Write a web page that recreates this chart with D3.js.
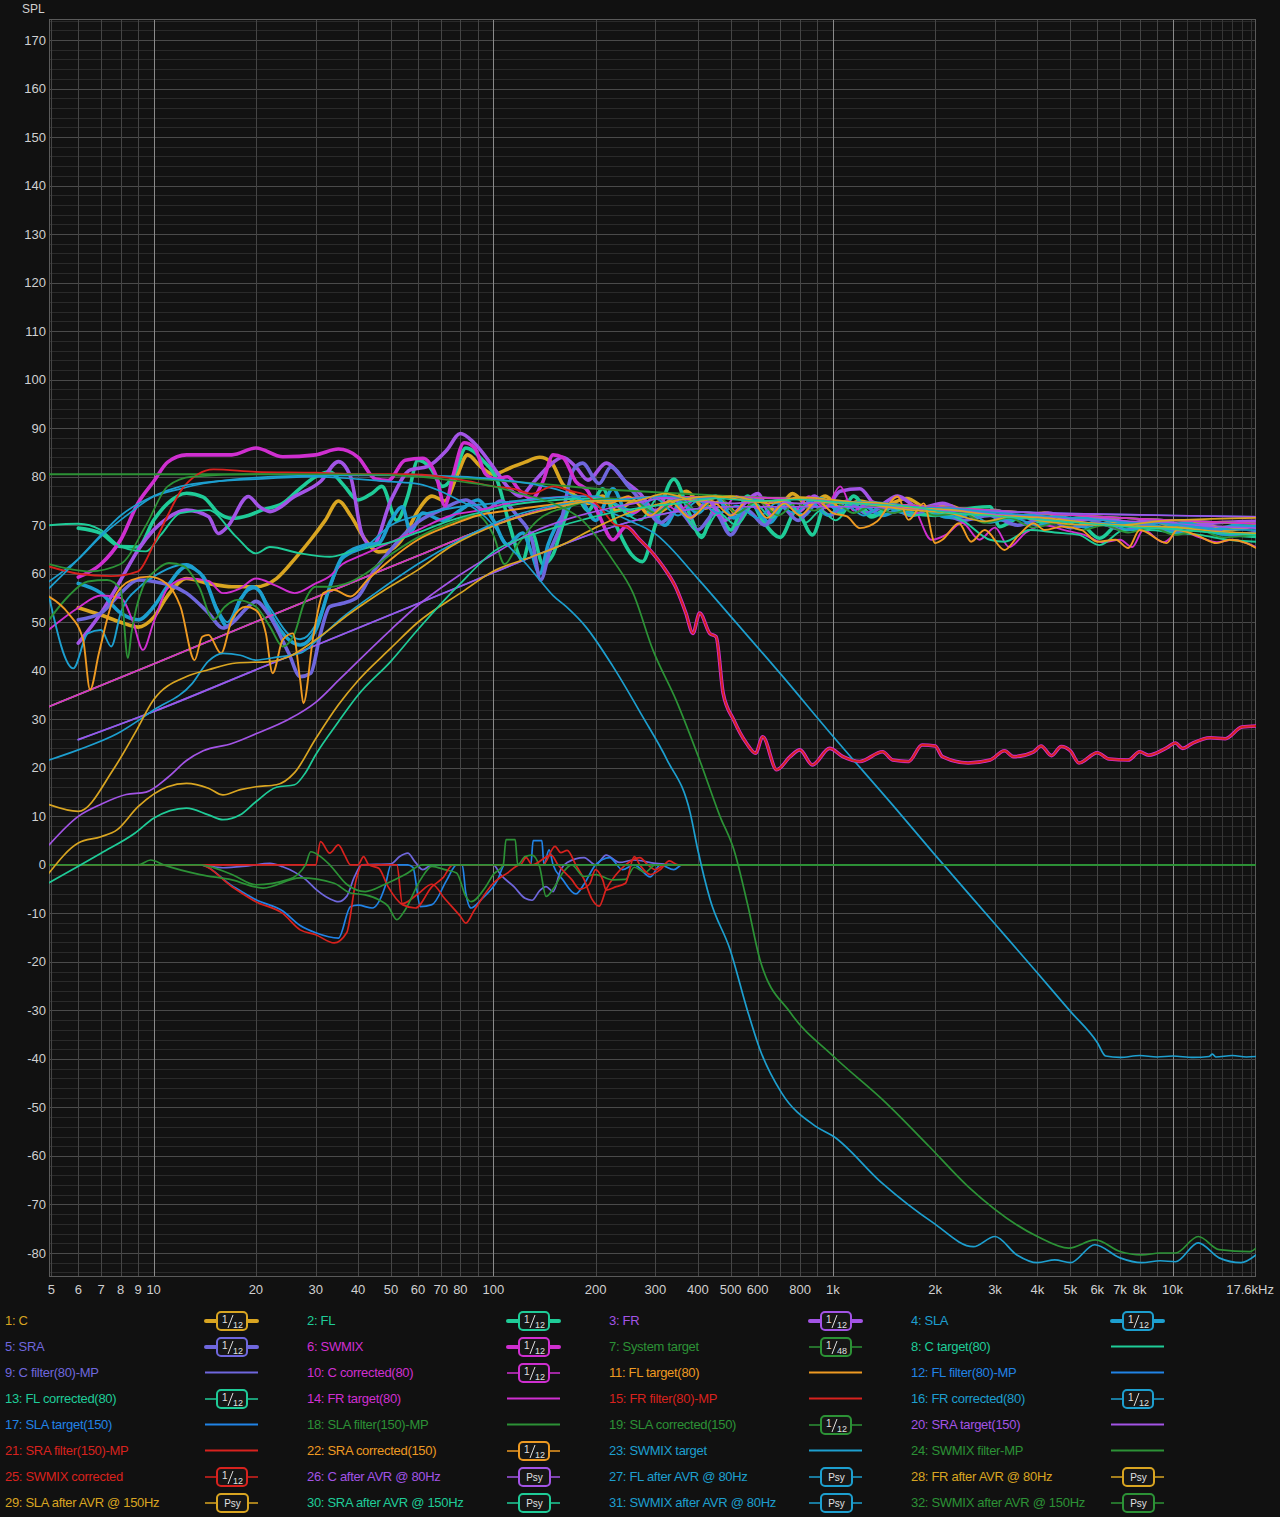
<!DOCTYPE html>
<html>
<head>
<meta charset="utf-8">
<script src="https://cdnjs.cloudflare.com/ajax/libs/d3/7.8.5/d3.min.js"></script>
<style>
html, body { margin: 0; padding: 0; background: #111; }
svg { display: block; font-family: "Liberation Sans", Arial, sans-serif; }
</style>
</head>
<body>
<div id="chart"></div>
<script>
// ---- values: [frequency Hz, SPL dB] ----
var cData = [[6,53],[7,51.5],[8,50],[9,49],[10,51],[11,55.5],[12.5,59],[14.5,58],[17,57.3],[20,57.3],[23,59],[26,63],[29,67],[32,71],[35,75],[38,72],[42,67],[46,64.5],[50,65],[55,68],[60,73],[66,76],[72,75],[78,80],[84,84.5],[92,82],[100,80.5],[112,81.8],[124,83],[137,84],[148,83],[160,78.5],[175,76],[190,74.5],[210,76],[230,73],[260,75],[290,72],[330,74],[370,77],[420,73.5],[470,75],[530,72],[600,75.5],[680,73],[760,76.5],[850,74],[950,76],[1050,73.5],[1200,75],[1400,74],[1650,75.5],[1900,73.5],[2200,74],[2600,72],[3000,73],[3500,71.5],[4200,72.5],[5000,71],[6000,71.5],[7200,70],[8500,71],[10000,70],[12000,70.5],[14500,69],[17600,70]];
var flData = [[6,69.4],[7,68.3],[8,65.6],[9,65.5],[10,71],[11,74.5],[12.5,76.6],[14,75.8],[15.5,72.5],[17,71.4],[19,72],[21,73.2],[24,74.5],[27,77.6],[30,80],[33,81],[36,78.5],[40,75.2],[44,76.6],[47,78],[52,71],[56,76],[60,83.4],[65,82],[71,78],[77,80.7],[83,85.9],[93,83.4],[103,79],[112,69.7],[122,62.8],[130,68.4],[140,62],[150,64],[160,70],[175,76],[190,73],[210,77.5],[230,70],[255,64],[275,62.5],[300,70],[340,79.5],[380,72],[410,67.5],[450,73.5],[500,69],[560,76],[620,71],[700,67.5],[780,73],[870,68],[960,75],[1050,72.5],[1150,76],[1300,72],[1500,74],[1700,72.5],[2000,72],[2300,73],[2900,73.8],[3100,69.7],[3600,71.8],[4200,70.5],[5200,71],[6100,67.3],[7000,70.4],[8800,69.7],[9800,69],[11000,69.7],[12200,69],[13900,68.3],[17600,67.7]];
var frData = [[6,45.7],[7,51.9],[8,58.7],[9,64.9],[10,69],[11,71.5],[12.5,73.1],[14.5,71.8],[15.5,68.3],[16.5,69.7],[19,75.9],[20.5,73.8],[22,72.8],[26,75.9],[31,79],[35,83.1],[38,80],[41,68.3],[44,65.6],[50,75.2],[57,81.4],[64,82.1],[73,85.5],[80,88.9],[88,86.9],[100,82],[110,78],[120,76],[132,79],[145,82],[160,84],[175,82],[190,79.3],[215,82.8],[245,79],[270,76.6],[300,73],[340,75.5],[380,71.5],[430,75],[480,71],[540,74],[600,76.5],[660,72],[720,74.5],[800,73],[880,76],[960,74],[1050,77],[1200,77.5],[1350,74],[1550,76],[1800,73.5],[2100,74.5],[2500,72.5],[3000,73],[3600,71.5],[4300,72.5],[5200,71],[6200,71.5],[7500,70.5],[9000,71],[11000,70],[13500,70.5],[17600,70.8]];
var slaData = [[6,58],[7,56],[8,51.9],[9,50.5],[10,53.2],[11,57.5],[12.5,61.5],[14,59.4],[15.5,51.9],[16.5,49.1],[18,54.6],[19.5,57.3],[20.5,56.4],[22,51.9],[25,46.4],[27,45.3],[30,48.4],[33,57.3],[36,63.5],[42,65.9],[46,66.3],[50,71],[54,73.8],[57,68.7],[62,72.5],[71,71],[80,73.1],[90,75.2],[100,71],[110,66],[122,68.4],[130,64],[137,60],[145,66],[160,72],[180,75],[200,71],[225,77.5],[250,72],[280,74],[320,70],[360,75],[400,72.5],[450,76],[510,71.5],[580,74],[650,70.5],[730,74.5],[820,72],[920,75.5],[1050,73],[1200,74.5],[1400,72],[1650,74],[1950,72.5],[2300,71.5],[2700,73],[3200,71],[3800,72],[4500,70.5],[5400,71.5],[6500,70],[7800,70.5],[9300,69.5],[11000,70.5],[13000,69],[15500,70],[17600,69.7]];
var sraData = [[6,50.5],[7,51.9],[8,56],[9,58.7],[10,58.4],[12.5,56],[14.5,51.9],[16,48.8],[17,49.8],[19,53.2],[20,54.3],[22,51.2],[25,43.6],[27,38.8],[29,39.5],[31,47.7],[33,53.2],[36,53.9],[40,55.3],[44,60.1],[48,63.5],[55,68.3],[61,71],[70,73.1],[83,75.2],[95,73],[105,75],[118,71.8],[130,67],[138,58.7],[146,64.2],[157,69.7],[172,81.4],[183,82.8],[205,78.6],[222,82],[250,78],[280,74],[310,70.5],[350,73],[400,69],[450,72.5],[500,68],[560,73],[630,70],[700,74],[790,71],[880,74],[980,72],[1100,75],[1250,72.5],[1450,74],[1700,72],[2000,73.5],[2400,71],[2900,72],[3500,70],[4200,71.5],[5000,69.5],[6000,70.5],[7200,69],[8600,70],[10300,68.5],[12500,69.5],[15000,68],[17600,68.5]];
var swmixLow = [[6,59.3],[7,62],[8,67],[9,74.6],[10,79],[11,83],[12.5,84.5],[15,84.5],[17,84.5],[20,85.9],[24,84.1],[30,84.5],[35,85.7],[40,84],[45,79.5],[49,79.2],[55,83.4],[62,83.8],[68,80],[72,74],[76,80],[82,87],[88,86],[95,80.5],[102,79.5],[110,80],[120,77],[130,75.5],[140,79],[150,84.5],[160,84],[175,79],[190,77],[205,72],[225,67],[246,69.7]];
var swmixCorrLow = [[4.92,61.5],[6,60],[7.5,59.5],[9,60.5],[10,66],[11,72],[12,77],[13.5,80.5],[15,81.5],[20,81],[30,80.8],[40,80.5],[55,80.5],[70,80],[85,79],[100,78],[115,77.5],[130,76.5],[150,78],[170,77],[190,76],[210,73],[230,70],[246,69.7]];
var swmixHigh = [[270,67],[295,64.2],[316,61.5],[344,57.3],[369,51.9],[387,47.7],[405,51.9],[434,47.7],[453,47],[475,35.4],[510,29.9],[556,25.1],[592,23],[621,26.4],[683,19.6],[748,22.3],[799,23.7],[870,20.6],[978,24],[1070,22.3],[1200,21.3],[1400,23.3],[1500,21.6],[1670,21.3],[1830,24.7],[2000,24.5],[2100,22.3],[2500,21],[2900,21.6],[3200,23.5],[3400,22.3],[3900,23.3],[4100,24.5],[4400,22.5],[4700,24.4],[5000,23.5],[5300,21],[6000,23.1],[6500,21.8],[7400,21.6],[8000,23.3],[8500,22.6],[9600,24.1],[10200,25.1],[10700,24],[11400,25],[12900,26.2],[14300,26],[16000,28.4],[17600,28.6]];
var systemTarget = [[4.92,80.5],[20,80.5],[40,80.4],[70,80],[100,79.3],[150,78.3],[200,77.5],[300,76.8],[500,76],[1000,75],[2000,73.8],[4000,72.5],[8000,71.3],[17600,70.3]];
var target80 = [[4.92,32.6],[10,41.4],[20,50.1],[40,58.7],[60,63.7],[80,67.3],[105,70.5],[130,72.6],[160,74],[200,75],[300,75.8],[500,75.8],[1000,75],[2000,73.8],[4000,72.5],[8000,71.3],[17600,70.3]];
var target150 = [[6,25.8],[10,31.6],[20,40.2],[40,48.8],[80,57.4],[150,65.2],[200,68.5],[300,72],[500,73.8],[1100,73.8],[2000,73.2],[5000,72.4],[10000,72],[17600,71.7]];
var swmixTarget = [[4.92,58.4],[6,63],[7,67.7],[8.5,72.5],[10,75.9],[12,77.5],[14,78.6],[17,79.4],[20,79.8],[30,80.2],[50,80.3],[80,80],[100,79.5],[130,78.5],[160,77],[200,74],[250,71],[300,68.2],[400,59],[500,51.2],[700,39.4],[1000,26.5],[1500,12.3],[2000,2],[3000,-12.2],[4000,-22.3],[5000,-30.2],[6000,-36.6],[6350,-39.4],[7000,-39.7],[8000,-39.3],[9000,-39.6],[10000,-39.4],[11500,-39.7],[12800,-39.5],[13100,-39.0],[13400,-39.6],[15000,-39.3],[16500,-39.6],[17600,-39.5]];
var cFilter = [[4.92,0],[13.7,0],[16,-0.6],[19,-0.2],[22,0.3],[24,-0.4],[26,-1.5],[28,-3],[30,-5],[33,-7],[35,-7.6],[37,-6.5],[39,-2.5],[41,0],[50,0.2],[53,1.7],[56,2.4],[59,0.5],[62,-1],[66,0],[100,0],[105,-2],[115,-4.5],[124,-6.9],[130,-7.3],[137,-5.3],[143,-4.5],[150,-5.5],[158,-1],[165,0.5],[185,1.5],[200,0],[215,2],[235,0.5],[260,1],[300,0.3],[350,0],[400,0]];
var flFilter = [[4.92,0],[13.7,0],[17,-4.3],[20,-7.2],[24,-9.5],[27,-12.5],[30,-14],[35,-15.1],[38,-8.6],[40,-8.3],[44,-8.9],[48,-4.5],[50,0],[56,0],[58,-0.5],[61,-8.6],[66,-8.2],[73,-3.1],[78,0],[81,0],[83,-5.8],[86,-8.9],[92,-7.2],[103,-3.1],[108,0],[129,0],[131,5],[139,5],[141,0],[146,3.1],[150,0],[160,-3],[175,-6],[185,-4],[200,0],[220,1.5],[240,-1],[260,0],[290,-2.5],[310,0],[340,-1],[360,0],[400,0]];
var frFilter = [[4.92,0],[13.7,0],[17,-4.5],[20,-7.6],[24,-10],[27,-13.4],[30,-14.4],[34,-16.1],[37,-14],[39.5,-3],[41,0],[52,0],[54,-8],[60,-6],[66,-4],[72,-7],[80,-10.6],[83,-12],[88,-9.3],[100,-3.8],[110,-1.7],[120,0],[140,0],[152,3.8],[158,2.5],[165,3],[175,0],[185,-3],[195,-7],[205,-8.5],[215,-5],[230,-2],[245,0],[270,1.5],[285,0],[300,-1],[320,0],[400,0]];
var slaFilter = [[4.92,0],[9,0],[9.8,1],[10.7,0],[13.7,-2],[17,-3.1],[21,-4.8],[27,-2.7],[34,-3.8],[38,-5.8],[42,-6.2],[46,-7.2],[49,-8.5],[52,-11.3],[55,-9.3],[61,-3.1],[66,-0.3],[72,-1],[78,-1.7],[83,-6.5],[86,-7.6],[95,-4.5],[100,-2],[107,0],[109,5.2],[116,5.2],[118,0],[124,1.7],[130,2],[137,-0.5],[143,-6.5],[150,-5],[160,-1.7],[170,0],[185,-2.4],[200,-2],[225,-3.1],[245,-3],[260,-0.5],[280,-1.5],[300,0],[17600,0]];
var sraFilter = [[4.92,0],[30,0],[31,4.8],[33,2.4],[35,4.1],[36.5,2],[38,0],[40,0],[41.5,1.7],[43,0],[46,-0.7],[49,-4.5],[54,-8.2],[59,-8.9],[66,-4.5],[71,-2.7],[76,0],[120,0],[125,1.5],[130,0],[148,2],[155,0],[170,-3],[180,-5],[192,-4],[200,-1],[210,-3.1],[215,-5.2],[230,-4.5],[245,-3.8],[260,1.7],[270,0],[290,-2],[310,-1],[330,0.8],[350,0],[400,0]];
var swmixFilter = [[4.92,0],[13.7,0],[17,-2],[20,-4.1],[25,-3],[28,0],[29,2.7],[31,1.7],[33,0],[37,-4],[42,-5.5],[48,-4],[55,-2],[62,0],[17600,0]];
var cCorr = [[4.92,48.5],[6,53],[7,55.5],[8,55],[8.7,50],[9.3,44.3],[10,50],[11,57],[12.5,59],[14.5,58.5],[16,56],[18,57],[20,59],[23,57.5],[26,56],[30,58],[33,59.5],[36,62],[40,63.5],[50,66.5],[60,69],[75,72],[90,73],[110,74.5],[140,75.5],[180,76],[220,75],[260,72.5],[300,76],[350,73],[400,75.5],[460,72],[520,76],[600,73.5],[680,75],[760,72.5],[850,76],[950,73.5],[1050,78],[1150,73],[1300,75],[1500,72.5],[1700,74],[1950,67],[2150,68],[2400,70.5],[2700,67],[3000,69.5],[3300,65.5],[3700,68.5],[4200,70],[4800,69],[5500,68],[6200,66.5],[7000,67],[7600,65.5],[8200,69],[9400,66.5],[10500,68.8],[12000,67.5],[13500,66.5],[15000,67],[17600,65.5]];
var flCorr = [[4.92,70],[6,70.3],[7,69],[8,65.6],[9.5,64.6],[10.5,68],[12,72.5],[14.5,73.1],[17.5,67.6],[20,64.2],[22,65.5],[27,64.2],[33,63.5],[38,64.5],[44,65.6],[50,66.5],[60,68.5],[75,71],[90,72.5],[110,74],[140,75],[200,75.5],[230,74],[270,71],[310,76],[360,73],[410,68],[460,72.5],[520,70],[590,74.5],[660,71.5],[740,75],[830,70.5],[920,73],[1020,71],[1150,74.5],[1300,71.5],[1500,73.5],[1700,72],[2000,72.5],[2400,71],[2900,67],[3200,66.6],[3800,69],[4500,68.5],[5300,68],[6100,65.9],[7200,69],[8500,69],[10000,68.5],[12000,68],[14500,67],[17600,66.6]];
var frCorr = [[4.92,55.3],[5.8,40.5],[6.4,47.7],[7,48.4],[7.5,45],[8,51.9],[9.1,57.3],[10,59.4],[11,61],[12.5,62],[14,59],[15.5,52.5],[16.5,50],[18,55],[20,57],[22,53],[25,47.5],[27,46.5],[30,49.5],[33,57],[36,63],[42,65.5],[50,70],[60,72],[75,73.5],[100,74.5],[140,75.5],[200,76],[220,75],[260,73],[300,75.5],[350,72],[400,75],[460,72.5],[520,74],[600,71.5],[680,74.5],[770,72.5],[860,75],[960,72],[1080,74.5],[1230,72],[1400,74],[1600,72.5],[1850,73.5],[2150,71.5],[2500,72.5],[2900,70.5],[3400,71.5],[4000,70],[4700,71],[5500,69.5],[6400,70.5],[7500,69],[8800,70],[10300,68.5],[12000,69.5],[14000,68],[17600,68.5]];
var slaCorr = [[4.92,50.5],[5.6,55.3],[6.4,58.4],[7.3,58.7],[8,56.7],[8.4,42.6],[8.6,47.7],[9.3,57.3],[10.2,60.8],[11.1,62.2],[12.3,61.5],[13.6,57.3],[15,50.5],[16.2,53.2],[17.6,54.6],[20,53.2],[22,49.1],[24,45],[26,47.7],[27.7,53.9],[30,57.3],[33,57.3],[37,58],[42,60],[50,64],[60,67.5],[75,70.5],[90,72],[100,68],[108,62],[118,66],[135,71],[170,74],[220,75.5],[260,75],[300,72.5],[350,75.5],[400,73],[460,76],[520,72.5],[600,75],[690,72],[780,74.5],[880,73],[1000,75],[1150,72.5],[1300,74],[1500,72.5],[1750,73.5],[2000,72],[2400,72.5],[2800,70.5],[3300,71.5],[3900,69.5],[4600,70.5],[5400,69],[6300,70],[7400,68.5],[8700,69.5],[10200,68],[12000,69],[14000,67.5],[17600,68]];
var sraCorr = [[4.92,55.3],[5.6,51.9],[6.2,46.4],[6.5,36.1],[6.9,43.6],[7.6,54.6],[8.6,58.7],[9.7,59.4],[10.9,58],[12,53.2],[13.2,42.2],[13.9,47],[14.5,47.4],[15.8,43.6],[17,50.5],[18.7,53.2],[20,52.5],[21.4,47.7],[22.4,39.5],[24,46.4],[25.7,47.7],[27,38.1],[27.6,33.3],[29.5,47],[31.6,56],[33.8,56.7],[38,55.3],[42.6,58.7],[50,63],[60,67],[75,70],[90,72],[110,73],[140,74],[180,75],[220,74.5],[250,76],[290,72],[330,75],[380,71.5],[440,75],[500,72],[570,75.5],[640,71.5],[720,74.5],[800,72],[900,75],[1000,72.5],[1100,71.8],[1200,69.4],[1350,70.8],[1550,75.9],[1670,71.1],[1850,74.5],[2000,66.3],[2100,67],[2350,70.4],[2550,66.6],[2800,69],[3200,64.9],[3500,67.7],[3900,70.4],[4200,69],[4700,69.7],[5400,69],[6000,66.6],[6800,67],[7400,65.3],[8000,69],[9600,66.3],[10300,69],[11800,67.9],[13500,66.3],[14700,67],[16500,66.3],[17600,65.3]];
var cAvr = [[4.92,4.1],[6,10],[7,12.5],[8.3,14.5],[9.5,15],[11,18],[12.5,21.5],[14,23.5],[17,25],[20,27],[25,30],[30,33.5],[35,38],[40,42],[50,48.5],[60,53.5],[75,58.5],[100,64],[130,68.5],[170,71.5],[220,73.5],[260,74.5],[320,75.5],[400,75],[500,74.5],[650,75],[800,74.5],[1000,74.8],[1300,74.2],[1700,73.5],[2200,73],[3000,72.3],[4000,71.8],[5500,71.2],[7500,70.8],[10000,70.3],[13000,69.8],[17600,69.4]];
var flAvr = [[4.92,21.6],[6,23.7],[7.8,27],[10,31.9],[13,37.4],[14.5,42],[16,43.6],[18,43.2],[20,42.2],[23,42.8],[27,43.6],[31,47],[36,51],[45,56],[60,62],[80,67],[110,71.5],[150,74],[200,75],[260,75.5],[320,76],[400,75.5],[500,75.8],[650,75],[800,75.4],[1000,74.6],[1300,74.8],[1700,73.8],[2200,73.5],[3000,72.6],[4000,72],[5500,71.4],[7500,70.5],[10000,70.2],[13000,69.3],[17600,69]];
var frAvr = [[4.92,12.4],[6,11],[7.6,19.6],[8.8,27.1],[10,34],[12.5,38.8],[14.5,40.2],[17.5,41.6],[22,41.9],[25,42.9],[30,46.4],[38,51.9],[48,56.7],[60,60.8],[75,65.6],[105,70.4],[150,73.5],[200,75],[260,75],[320,76.5],[400,75],[500,76],[650,74.5],[800,75.8],[1000,75.2],[1300,74.2],[1700,73.1],[2200,72.5],[2800,70.8],[3400,71.8],[4200,70.8],[5400,70.1],[7000,70],[9000,70.8],[10800,71.1],[13000,71.3],[17600,71.5]];
var slaAvr = [[4.92,-1.7],[6,4.5],[7,5.8],[7.8,7.2],[9,12],[11,16.1],[12.5,16.8],[14.5,15.8],[16,14.4],[18,15.5],[20,16.1],[23,16.5],[26,19],[30,26],[35,33],[40,38],[50,44.7],[60,50],[80,56],[100,60.5],[130,63.5],[160,66],[200,69.5],[250,72.5],[350,75.2],[450,76],[600,74.8],[800,75.5],[1000,74.6],[1300,74.7],[1700,73.6],[2200,73.2],[3000,72],[4000,71.6],[5500,70.6],[7500,69.8],[10000,69.6],[13000,68.8],[17600,68.3]];
var sraAvr = [[4.92,-3.7],[6,-0.3],[7,2.4],[8.8,6.5],[10,9.6],[12.5,11.7],[14.5,10.3],[16,9.3],[18,10.3],[20,13],[23,16],[26,16.5],[28,19],[30,22.7],[35,29.5],[40,35],[50,42],[60,48.5],[80,58],[100,64.5],[130,68],[170,70.5],[220,72.5],[300,74],[350,74.5],[450,75.5],[600,75],[800,75.3],[1000,74.8],[1300,74.3],[1700,73.8],[2200,72.6],[3000,71.9],[4000,71.2],[5500,70.4],[7500,69.6],[10000,69.2],[13000,68.5],[17600,68]];
var swmixAvr80 = [[4.92,57],[6,63],[7,68],[8,72],[10,76],[12,78],[15,79],[20,79.5],[30,80],[40,79.5],[50,79],[60,78.5],[70,77],[80,75],[90,73],[100,70],[110,66],[125,62],[137,58.7],[150,55.5],[164,53.2],[187,49.1],[225,40.9],[275,30.6],[325,21.6],[380,10.7],[400,3.1],[435,-7.2],[498,-17.5],[560,-30],[610,-38.1],[706,-47],[890,-53.9],[1005,-56],[1390,-65.5],[1975,-73.8],[2590,-78.7],[3000,-76.6],[3480,-80.4],[4000,-82],[4500,-81.4],[5000,-82],[5900,-78.3],[7000,-81],[8100,-82],[9200,-81.6],[10200,-81.8],[11900,-77.9],[13700,-81],[15900,-82],[17600,-80.4]];
var swmixAvr150 = [[4.92,62],[6.5,60.5],[8,62],[9.5,70],[11,78],[13,80],[20,80.5],[40,80.5],[60,80],[80,79],[100,78],[120,76.5],[150,74.5],[183,71],[225,62.8],[258,56],[295,44.3],[345,34],[405,21.6],[465,10],[511,3.1],[560,-8],[610,-19.6],[750,-30.5],[1005,-39.5],[1430,-49],[1918,-58],[2500,-66.3],[4000,-76.6],[4950,-79],[5920,-77.3],[7000,-79.7],[8100,-80.4],[9200,-80],[10200,-80],[11900,-76.6],[13700,-79.3],[16900,-79.7],[17600,-79]];

// legend
var legendNames = ['1: C','2: FL','3: FR','4: SLA','5: SRA','6: SWMIX','7: System target','8: C target(80)',
  '9: C filter(80)-MP','10: C corrected(80)','11: FL target(80)','12: FL filter(80)-MP','13: FL corrected(80)','14: FR target(80)','15: FR filter(80)-MP','16: FR corrected(80)',
  '17: SLA target(150)','18: SLA filter(150)-MP','19: SLA corrected(150)','20: SRA target(150)','21: SRA filter(150)-MP','22: SRA corrected(150)','23: SWMIX target','24: SWMIX filter-MP',
  '25: SWMIX corrected','26: C after AVR @ 80Hz','27: FL after AVR @ 80Hz','28: FR after AVR @ 80Hz','29: SLA after AVR @ 150Hz','30: SRA after AVR @ 150Hz','31: SWMIX after AVR @ 80Hz','32: SWMIX after AVR @ 150Hz'];
var legendColors = ['#d9a521','#1fcc98','#a354e6','#1d9fcf','#6f67dd','#cf2fd0','#2c9236','#1fcc98',
  '#6f67dd','#cf2fd0','#ee9a22','#2183e6','#1fcc98','#cf2fd0','#d8221e','#1d9fcf',
  '#2183e6','#2c9236','#2c9236','#a354e6','#d8221e','#ee9a22','#1d9fcf','#2c9236',
  '#d8221e','#a354e6','#1d9fcf','#d9a521','#d9a521','#1fcc98','#1d9fcf','#2c9236'];
var legendBadges = ['1/12','1/12','1/12','1/12','1/12','1/12','1/48','',
  '','1/12','','','1/12','','','1/12',
  '','','1/12','','','1/12','','',
  '1/12','Psy','Psy','Psy','Psy','Psy','Psy','Psy'];

var seriesData = [cData, flData, frData, slaData, sraData, swmixLow.concat(swmixHigh), systemTarget, target80,
  cFilter, cCorr, target80, flFilter, flCorr, target80, frFilter, frCorr,
  target150, slaFilter, slaCorr, target150, sraFilter, sraCorr, swmixTarget, swmixFilter,
  swmixCorrLow.concat(swmixHigh), cAvr, flAvr, frAvr, slaAvr, sraAvr, swmixAvr80, swmixAvr150];

var xTickFreqs = [5,6,7,8,9,10,20,30,40,50,60,70,80,100,200,300,400,500,600,800,1000,2000,3000,4000,5000,6000,7000,8000,10000];
var xTickLabels = ['5','6','7','8','9','10','20','30','40','50','60','70','80','100','200','300','400','500','600','800','1k','2k','3k','4k','5k','6k','7k','8k','10k'];

// ---- canvas ----
var width = 1280, height = 1517;
var plotLeft = 49, plotRight = 1256, plotTop = 19, plotBottom = 1277;

var svg = d3.select('#chart').append('svg')
  .attr('width', width).attr('height', height);
svg.append('rect').attr('width', width).attr('height', height).attr('fill', '#111111');

var x = d3.scaleLog().domain([4.92, 17600]).range([plotLeft, plotRight]);
var y = d3.scaleLinear().domain([-80, 170]).range([1253, 40]);

svg.append('rect')
  .attr('x', plotLeft).attr('y', plotTop)
  .attr('width', plotRight - plotLeft).attr('height', plotBottom - plotTop)
  .attr('fill', '#121212');

// grid: horizontal every 2 dB
var grid = svg.append('g');
for (var v = -84; v <= 174; v += 2) {
  var major = (v % 10 === 0);
  grid.append('line')
    .attr('x1', plotLeft).attr('x2', plotRight)
    .attr('y1', Math.round(y(v)) + 0.5).attr('y2', Math.round(y(v)) + 0.5)
    .attr('stroke', major ? '#4a4a4a' : '#2a2a2a').attr('stroke-width', 1);
}
// vertical
var vFreqs = [];
[1, 10, 100, 1000].forEach(function(d) {
  for (var m = 1; m <= 9; m++) { if (m * d >= 5) vFreqs.push(m * d); }
});
for (var k = 10000; k <= 17000; k += 1000) vFreqs.push(k);
vFreqs.forEach(function(f) {
  var dec = (f === 10 || f === 100 || f === 1000 || f === 10000);
  var px = Math.round(x(f)) + 0.5;
  grid.append('line')
    .attr('x1', px).attr('x2', px)
    .attr('y1', plotTop).attr('y2', plotBottom)
    .attr('stroke', dec ? '#8a8a8a' : (f > 10000 ? '#363636' : '#454545'))
    .attr('stroke-width', 1);
});
svg.append('rect')
  .attr('x', plotLeft + 0.5).attr('y', plotTop + 0.5)
  .attr('width', plotRight - plotLeft - 1).attr('height', plotBottom - plotTop - 1)
  .attr('fill', 'none').attr('stroke', '#5a5a5a');

// axis labels
var yTicks = d3.range(-80, 171, 10);
svg.append('g').selectAll('text').data(yTicks).enter().append('text')
  .attr('x', 46).attr('y', function(d) { return y(d) + 4.5; })
  .attr('text-anchor', 'end').attr('fill', '#d0d0d0').attr('font-size', 13)
  .text(function(d) { return d; });
svg.append('text').attr('x', 22).attr('y', 13).attr('fill', '#d0d0d0').attr('font-size', 12).text('SPL');

svg.append('g').selectAll('text').data(xTickFreqs).enter().append('text')
  .attr('x', function(d) { return x(d); }).attr('y', 1294)
  .attr('text-anchor', 'middle').attr('fill', '#d0d0d0').attr('font-size', 13)
  .text(function(d, i) { return xTickLabels[i]; });
svg.append('text').attr('x', 1274).attr('y', 1294).attr('text-anchor', 'end')
  .attr('fill', '#d0d0d0').attr('font-size', 13).text('17.6kHz');

// curves
svg.append('clipPath').attr('id', 'plotclip').append('rect')
  .attr('x', plotLeft).attr('y', plotTop)
  .attr('width', plotRight - plotLeft).attr('height', plotBottom - plotTop);

var lineGen = d3.line()
  .x(function(d) { return x(d[0]); })
  .y(function(d) { return y(d[1]); })
  .curve(d3.curveMonotoneX);

var curves = svg.append('g').attr('clip-path', 'url(#plotclip)');
seriesData.forEach(function(data, i) {
  var thick = i < 6;
  curves.append('path')
    .attr('d', lineGen(data))
    .attr('fill', 'none')
    .attr('stroke', legendColors[i])
    .attr('stroke-width', thick ? 3.6 : (legendBadges[i] === '1/12' || legendBadges[i] === '1/48' ? 1.9 : 1.7))
    .attr('stroke-linejoin', 'round')
    .attr('stroke-linecap', 'round');
});

// legend
var legend = svg.append('g');
legendNames.forEach(function(name, i) {
  var col = i % 4, row = Math.floor(i / 4);
  var lx = 5 + col * 302, ly = 1320 + row * 26;
  var color = legendColors[i];
  var g = legend.append('g');
  g.append('text').attr('x', lx).attr('y', ly + 4.5)
    .attr('fill', color).attr('font-size', 13).attr('letter-spacing', -0.3).text(name);
  var sx = lx + 200;
  var badge = legendBadges[i];
  if (!badge) {
    g.append('line').attr('x1', sx).attr('x2', sx + 53).attr('y1', ly + 0.5).attr('y2', ly + 0.5)
      .attr('stroke', color).attr('stroke-width', 2);
    return;
  }
  var thick = i < 6;
  var bw = badge === 'Psy' ? 31 : 30;
  var bx = sx + 12;
  g.append('line').attr('x1', sx + (thick ? 1 : 0)).attr('x2', bx).attr('y1', ly + 1).attr('y2', ly + 1)
    .attr('stroke', color).attr('stroke-width', thick ? 4 : 1.5).attr('stroke-linecap', thick ? 'round' : 'butt');
  g.append('line').attr('x1', bx + bw).attr('x2', sx + 53 - (thick ? 1 : 0)).attr('y1', ly + 1).attr('y2', ly + 1)
    .attr('stroke', color).attr('stroke-width', thick ? 4 : 1.5).attr('stroke-linecap', thick ? 'round' : 'butt');
  g.append('rect').attr('x', bx).attr('y', ly - 8).attr('width', bw).attr('height', 18).attr('rx', 4)
    .attr('fill', '#161616').attr('stroke', color).attr('stroke-width', 2);
  if (badge === 'Psy') {
    g.append('text').attr('x', bx + bw / 2).attr('y', ly + 5).attr('text-anchor', 'middle')
      .attr('fill', '#e0e0e0').attr('font-size', 10).text('Psy');
  } else {
    var parts = badge.split('/');
    g.append('text').attr('x', bx + 5).attr('y', ly + 3).attr('fill', '#e0e0e0').attr('font-size', 10).text(parts[0]);
    g.append('line').attr('x1', bx + 11).attr('y1', ly + 8).attr('x2', bx + 16).attr('y2', ly - 5)
      .attr('stroke', '#e0e0e0').attr('stroke-width', 1);
    g.append('text').attr('x', bx + 16).attr('y', ly + 8).attr('fill', '#e0e0e0').attr('font-size', 9).text(parts[1]);
  }
});
</script>
</body>
</html>
